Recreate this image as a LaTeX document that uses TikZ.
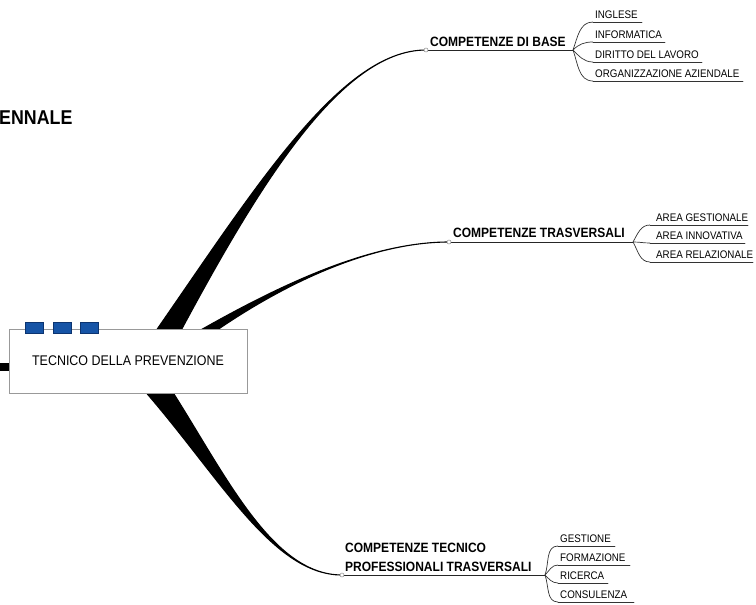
\documentclass[tikz,border=0pt]{standalone}
\usepackage{fontspec}
\setmainfont{Liberation Sans}[FakeStretch=0.89]
\usepackage{tkz-euclide}

\definecolor{tabblue}{RGB}{22,84,166}
\definecolor{tabedge}{RGB}{12,52,112}

\tikzset{
  branch/.style={fill=black,draw=black,line width=1.1pt},
  rule/.style={draw=black!85,line width=.9pt},
  twig/.style={draw=black!80,line width=.7pt},
  knob/.style={circle,draw=black!45,fill=white,line width=.5pt,inner sep=0pt,minimum size=4pt},
  hub/.style={font=\fontsize{13.5}{19}\selectfont\bfseries,inner sep=0pt,anchor=south west,align=left},
  leaf/.style={font=\fontsize{11}{12}\selectfont,inner sep=0pt,anchor=south west},
  tab/.style={fill=tabblue,draw=tabedge,line width=.4pt,minimum width=18pt,minimum height=11pt,inner sep=0pt}
}

\begin{document}
\begin{tikzpicture}[x=1pt,y=-1pt]
    \useasboundingbox (0,0) rectangle (756,605);
    % tips, forks and roots of the three branches
    \tkzDefPoints{426/50/tB,573/50/fB,151/338/rBl,177/338/rBr}
    \tkzDefPoints{449/242/tT,633/242/fT,192/335/rTl,210/335/rTr}
    \tkzDefPoints{342/575/tP,545/575/fP,135/380/rPl,165/380/rPr}
    % leaves
    \tkzDefPoints{593/22/b1,642/22/B1,593/42/b2,665/42/B2,593/62/b3,702/62/B3,593/81/b4,743/81/B4}
    \tkzDefPoints{650/225/t1,748/225/T1,650/243/t2,745/243/T2,650/262/t3,753/262/T3}
    \tkzDefPoints{558/546/p1,615/546/P1,558/565/p2,630/565/P2,558/583/p3,608/583/P3,558/602/p4,634/602/P4}
    \coordinate (in) at (0,367);

    \filldraw[branch] (tB) .. controls (340,50) and (254,190) .. (rBl) -- (rBr)
        .. controls (256,190) and (340,50) .. (tB);
    \filldraw[branch] (tT) .. controls (370,242) and (279,285) .. (rTl) -- (rTr)
        .. controls (281,285) and (370,242) .. (tT);
    \filldraw[branch] (tP) .. controls (270,575) and (217,471) .. (rPl) -- (rPr)
        .. controls (223,469) and (270,575) .. (tP);

    \node[draw=black!40,fill=white,line width=.6pt,minimum width=238pt,minimum height=64pt,
        font=\fontsize{14}{16}\selectfont] (tdp) at (128,361) {TECNICO DELLA PREVENZIONE};
    \draw[line width=8pt] (in) -- (in -| tdp.west);
    \node[tab] (q1) at (34,328) {};
    \node[tab] (q2) at (62.5,328) {};
    \node[tab] (q3) at (89.5,328) {};

    \node[anchor=south west,inner sep=0pt,font=\fontsize{20}{20}\selectfont\bfseries] (ennale) at (-1,125) {ENNALE};

    \tkzDrawSegments[rule](tB,fB tT,fT tP,fP)
    \tkzDrawSegments[twig](b1,B1 b2,B2 b3,B3 b4,B4 t1,T1 t2,T2 t3,T3 p1,P1 p2,P2 p3,P3 p4,P4)
    \draw[twig] (fB) to[out=70,in=180] (b1);
    \draw[twig] (fB) to[out=45,in=180] (b2);
    \draw[twig] (fB) to[out=-45,in=180] (b3);
    \draw[twig] (fB) to[out=-70,in=180] (b4);
    \draw[twig] (fT) to[out=60,in=180] (t1);
    \draw[twig] (fT) to[out=0,in=180] (t2);
    \draw[twig] (fT) to[out=-60,in=180] (t3);
    \draw[twig] (fP) to[out=70,in=180] (p1);
    \draw[twig] (fP) to[out=45,in=180] (p2);
    \draw[twig] (fP) to[out=-45,in=180] (p3);
    \draw[twig] (fP) to[out=-70,in=180] (p4);
    \node[knob] (kB) at (tB) {};
    \node[knob] (kT) at (tT) {};
    \node[knob] (kP) at (tP) {};

    \node[hub,xshift=4pt,yshift=3pt] (base) at (tB) {COMPETENZE DI BASE};
    \node[hub,xshift=4pt,yshift=4pt] (trasv) at (tT) {COMPETENZE TRASVERSALI};
    \node[hub,xshift=3pt,yshift=3pt] (tecn) at (tP) {COMPETENZE TECNICO\\PROFESSIONALI TRASVERSALI};
    \node[leaf,xshift=2pt,yshift=3.5pt] (ingl) at (b1) {INGLESE};
    \node[leaf,xshift=2pt,yshift=3.5pt] (info) at (b2) {INFORMATICA};
    \node[leaf,xshift=2pt,yshift=3.5pt] (dirit) at (b3) {DIRITTO DEL LAVORO};
    \node[leaf,xshift=2pt,yshift=3.5pt] (orga) at (b4) {ORGANIZZAZIONE AZIENDALE};
    \node[leaf,xshift=6pt,yshift=3.5pt] (gest) at (t1) {AREA GESTIONALE};
    \node[leaf,xshift=6pt,yshift=3.5pt] (innov) at (t2) {AREA INNOVATIVA};
    \node[leaf,xshift=6pt,yshift=3.5pt] (relaz) at (t3) {AREA RELAZIONALE};
    \node[leaf,xshift=2pt,yshift=3.5pt] (gestione) at (p1) {GESTIONE};
    \node[leaf,xshift=2pt,yshift=3.5pt] (form) at (p2) {FORMAZIONE};
    \node[leaf,xshift=2pt,yshift=3.5pt] (ricer) at (p3) {RICERCA};
    \node[leaf,xshift=2pt,yshift=3.5pt] (consul) at (p4) {CONSULENZA};
\end{tikzpicture}
\end{document}
